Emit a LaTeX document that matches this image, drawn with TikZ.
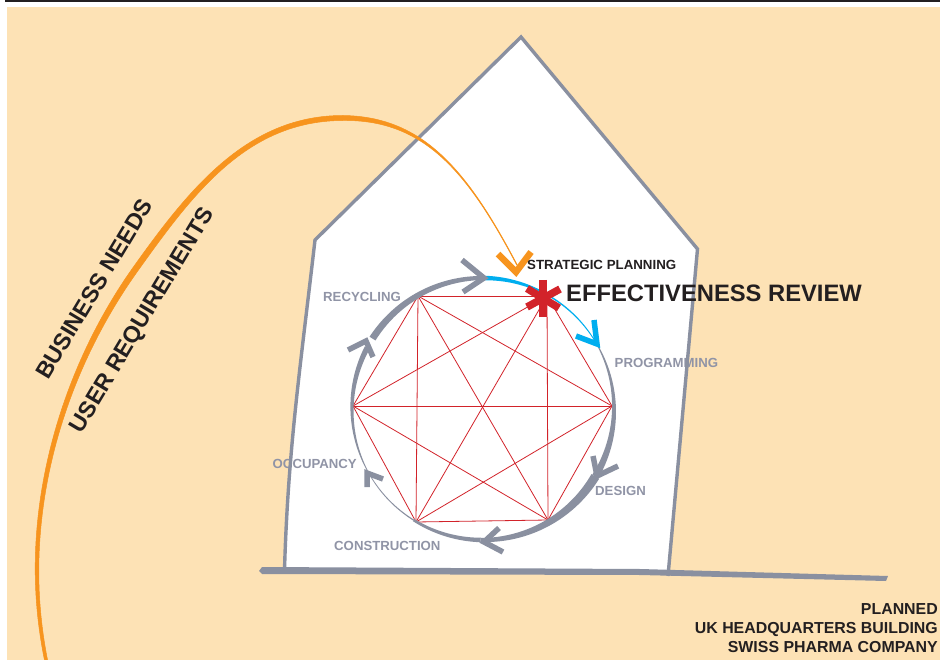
\documentclass[tikz,border=0pt]{standalone}
\usepackage{fontspec}
\setmainfont{Liberation Sans}
\definecolor{peach}{HTML}{FDE2B5}
\definecolor{wallgray}{HTML}{8A90A0}
\definecolor{labelgray}{HTML}{9094A6}
\definecolor{skyblue}{HTML}{00AEEF}
\definecolor{orangeline}{HTML}{F7941E}
\definecolor{redline}{HTML}{D2232A}
\definecolor{inkdark}{HTML}{231F20}
\newcommand{\taperarc}[5]{%
  \fill[#5] plot[domain=#1:#2,samples=40,variable=\t]
    ({483+(131+(#3+(#4-#3)*(\t-(#1))/((#2)-(#1)))/2)*cos(\t)},{409-(131+(#3+(#4-#3)*(\t-(#1))/((#2)-(#1)))/2)*sin(\t)})
    -- plot[domain=#2:#1,samples=40,variable=\t]
    ({483+(131-(#3+(#4-#3)*(\t-(#1))/((#2)-(#1)))/2)*cos(\t)},{409-(131-(#3+(#4-#3)*(\t-(#1))/((#2)-(#1)))/2)*sin(\t)})
    -- cycle;}
\tikzset{
  labeltext/.style={font=\bfseries\fontsize{13.2}{15}\selectfont,text=labelgray,inner sep=0pt,anchor=base west},
  darktext/.style={font=\bfseries\fontsize{13.3}{15}\selectfont,text=inkdark,inner sep=0pt},
  bigtext/.style={font=\bfseries\fontsize{23.2}{26}\selectfont,text=inkdark,inner sep=0pt,rotate=59},
  foottext/.style={font=\bfseries\fontsize{15.9}{18}\selectfont,text=inkdark,inner sep=0pt,anchor=base east},
  headgray/.style={draw=wallgray,line width=5.5pt,line join=miter},
  headblue/.style={draw=skyblue,line width=5.5pt,line join=miter},
  headorange/.style={draw=orangeline,line width=6.5pt,line join=miter},
  hexline/.style={draw=redline,line width=0.8pt},
  starbar/.style={draw=redline,line width=7.5pt},
}
\begin{document}
\begin{tikzpicture}[x=1pt,y=-1pt]
\useasboundingbox (0,0) rectangle (940,660);
% backdrop
\fill[white] (0,0) rectangle (940,660);
\fill[peach] (7,7) rectangle (940,660);
\fill[inkdark] (5,0) rectangle (940,2.2);
% house interior
\fill[white] (521,37) -- (697.5,249) -- (668,572) -- (284,570)
  .. controls (288,450) and (300,370) .. (315,240) -- cycle;
% cycle labels (walls run over them)
\node[labeltext] (recycling) at (323,302) {RECYCLING};
\node[labeltext] (programming) at (614.5,367) {PROGRAMMING};
\node[labeltext] (design) at (595,495) {DESIGN};
\node[labeltext] (construction) at (334,550) {CONSTRUCTION};
\node[labeltext] (occupancy) at (272.5,468) {OCCUPANCY};
% house outline
\draw[wallgray,line width=3.4pt,line join=miter]
  (284.5,570) .. controls (288,450) and (300,370) .. (315,240) -- (521,37) -- (697.5,249) -- (668,576);
% ground
\fill[wallgray] (262,567) -- (640,569) -- (888,576) -- (886,581) -- (640,575) -- (262,574) -- (259,571) -- cycle;
% hexagon
\coordinate (h1) at (418,296);
\coordinate (h2) at (547,296);
\coordinate (h3) at (612,406);
\coordinate (h4) at (548,520);
\coordinate (h5) at (416,522);
\coordinate (h6) at (353,406);
\foreach \a/\b in {h1/h2,h1/h3,h1/h4,h1/h5,h1/h6,h2/h3,h2/h4,h2/h5,h2/h6,h3/h4,h3/h5,h3/h6,h4/h5,h4/h6,h5/h6}
  \draw[hexline] (\a) -- (\b);
% cycle arcs
\taperarc{147.5}{89}{7}{4}{wallgray}
\taperarc{89}{62}{4.5}{2}{skyblue}
\taperarc{62}{29}{1.6}{0.8}{skyblue}
\taperarc{29}{-31}{1}{7}{wallgray}
\taperarc{-31}{-91}{9}{4}{wallgray}
\taperarc{-91}{-122}{4.5}{2.5}{wallgray}
\taperarc{-122}{-152}{1.2}{0.7}{wallgray}
\taperarc{208}{152}{0.8}{5.5}{wallgray}
% arrow heads
\coordinate (t1) at (484,278);
\draw[headgray] (462,260) -- (t1) -- (463,292);
\coordinate (t2) at (597,344);
\draw[headblue] (594,320) -- (t2) -- (576,336);
\coordinate (t3) at (597,476);
\draw[headgray] (593,456) -- (t3) -- (618,466);
\coordinate (t4) at (484,542);
\draw[headgray] (499,528) -- (t4) -- (503,552);
\coordinate (t5) at (367,473);
\draw[headgray] (367,487) -- (t5) -- (383,479);
\coordinate (t6) at (366,341);
\draw[headgray] (348,350) -- (t6) -- (373,357);
% orange sweep
\filldraw[fill=orangeline,draw=orangeline,line width=0.5pt] (44.5,660.2) .. controls (38.4,630.3) and (35.3,600) .. (35.2,570)
  .. controls (34.9,465) and (70.8,354.4) .. (134.6,265.3)
  .. controls (189.6,188.3) and (248,115.3) .. (343,115.5)
  .. controls (423,116.5) and (467.3,169.9) .. (517.3,264.9)
  -- (516.7,265.1)
  .. controls (466.7,170.1) and (423,119.5) .. (343,120.5)
  .. controls (248,120.7) and (194.4,191.7) .. (139.4,268.7)
  .. controls (75.2,357.6) and (39.1,465) .. (38.8,570)
  .. controls (38.7,600) and (41.6,629.7) .. (47.5,659.8) -- cycle;
\coordinate (t7) at (516,272);
\draw[headorange] (498,254) -- (t7) -- (531,252);
% effectiveness star
\coordinate (s0) at (543,298.5);
\draw[starbar] (543,280) -- (543,317);
\draw[starbar] (527,288.5) -- (559,308);
\draw[starbar] (527,307) -- (560,289);
% dark texts
\node[darktext,anchor=base west] (strategic) at (527,270) {STRATEGIC PLANNING};
\node[inner sep=0pt,anchor=base west,font=\bfseries\fontsize{23.75}{26}\selectfont,text=inkdark] (review) at (566,302) {EFFECTIVENESS REVIEW};
\node[bigtext] (business) at (94,289) {BUSINESS NEEDS};
\node[bigtext] (user) at (143,321) {USER REQUIREMENTS};
\node[foottext] (planned) at (938,614) {PLANNED};
\node[foottext] (uk) at (938,633) {UK HEADQUARTERS BUILDING};
\node[foottext] (swiss) at (938,652) {SWISS PHARMA COMPANY};
\end{tikzpicture}
\end{document}
